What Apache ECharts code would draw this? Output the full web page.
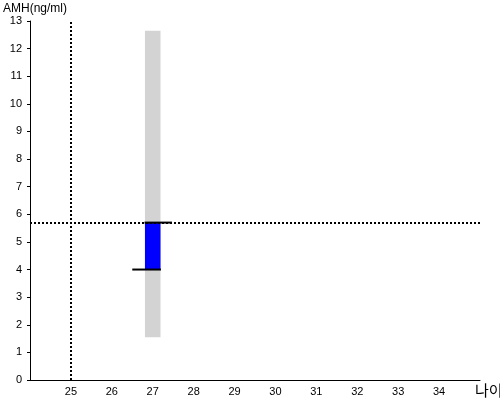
<!DOCTYPE html>
<html><head><meta charset="utf-8">
<script src="https://cdn.jsdelivr.net/npm/echarts@6/dist/echarts.min.js"></script>
<style>html,body{margin:0;padding:0;background:#fff}#c{width:500px;height:400px}</style>
</head><body><div id="c"></div>
<script>
var xName = '나이';
var yName = 'AMH(ng/ml)';
var ageCategory = 27;
var rangeLow = 1.55, rangeHigh = 12.65;
var valueLow = 4.0, valueHigh = 5.7;
var refAge = 25;
var refValue = 5.7;
var upperSegment = [[26.8, 5.7], [27.47, 5.7]];
var lowerSegment = [[26.5, 4.0], [27.2, 4.0]];
var barHalfWidth = 0.19;

function rectItem(color) {
  return function (params, api) {
    var x = api.value(0), lo = api.value(1), hi = api.value(2);
    var p1 = api.coord([x - barHalfWidth, hi]);
    var p2 = api.coord([x + barHalfWidth, lo]);
    return {type: 'rect', shape: {x: p1[0], y: p1[1], width: p2[0] - p1[0], height: p2[1] - p1[1]},
      style: {fill: color}};
  };
}

var chart = echarts.init(document.getElementById('c'));
var font = 'Liberation Sans, Arial, sans-serif';
chart.setOption({
  animation: false,
  grid: {left: 30, right: 20, top: 21, bottom: 20, containLabel: false, outerBoundsMode: 'none'},
  xAxis: {
    type: 'value', min: 24, max: 35, interval: 1,
    name: xName, nameLocation: 'end', nameGap: 0,
    nameTextStyle: {color: '#000', fontSize: 15, fontFamily: 'Noto Sans CJK KR', verticalAlign: 'top', padding: [3, 0, 0, -5], align: 'left'},
    axisLine: {lineStyle: {color: '#000', width: 1}},
    axisTick: {show: false},
    splitLine: {show: false},
    axisLabel: {color: '#000', fontSize: 11, fontFamily: font, margin: 6, showMinLabel: false, showMaxLabel: false}
  },
  yAxis: {
    type: 'value', min: 0, max: 13, interval: 1,
    name: yName, nameLocation: 'end', nameGap: 6,
    nameTextStyle: {color: '#000', fontSize: 12, fontFamily: font, align: 'left', padding: [0, 0, 0, -27]},
    axisLine: {show: true, lineStyle: {color: '#000', width: 1}},
    axisTick: {show: true, length: 3, lineStyle: {color: '#000'}},
    splitLine: {show: false},
    axisLabel: {color: '#000', fontSize: 11, fontFamily: font, margin: 8}
  },
  series: [
    {type: 'custom', renderItem: rectItem('#d3d3d3'), data: [[ageCategory, rangeLow, rangeHigh]], z: 1},
    {type: 'custom', renderItem: rectItem('#0000ff'), data: [[ageCategory, valueLow, valueHigh]], z: 2},
    {type: 'line', data: upperSegment, symbol: 'none', lineStyle: {color: '#000', width: 2}, z: 3},
    {type: 'line', data: lowerSegment, symbol: 'none', lineStyle: {color: '#000', width: 2}, z: 3,
     markLine: {silent: true, symbol: 'none', label: {show: false},
       lineStyle: {color: '#000', width: 2, type: [2, 2]},
       data: [{xAxis: refAge}, {yAxis: refValue}]}}
  ]
});
</script></body></html>
